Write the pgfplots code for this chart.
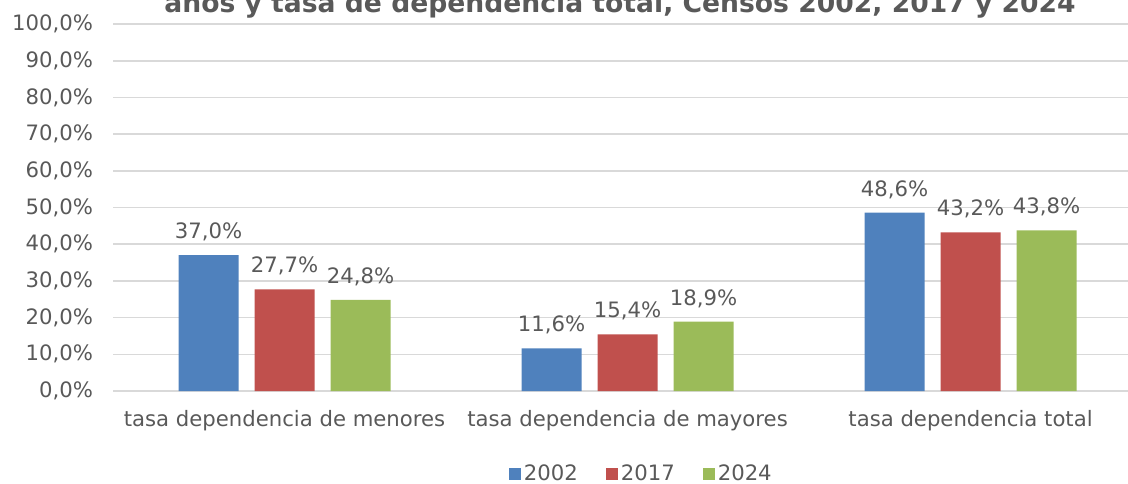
\documentclass[border=0pt]{standalone}
\usepackage{fontspec}
\setmainfont{DejaVu Sans}
\usepackage{pgfplots}
\pgfplotsset{compat=1.18}
\definecolor{cBlue}{HTML}{4F81BD}
\definecolor{cRed}{HTML}{C0504D}
\definecolor{cGreen}{HTML}{9BBB59}
\definecolor{txt}{HTML}{595959}
\definecolor{grd}{HTML}{D9D9D9}
\begin{document}
\begin{tikzpicture}[x=1pt,y=1pt]
\begin{axis}[
    at={(56.5pt,46pt)}, anchor=south west,
    scale only axis,
    width=507.5pt, height=183.5pt,
    ybar, bar width=30pt,
    xmin=-0.5, xmax=2.459,
    ymin=0, ymax=100,
    xtick={0,1,2},
    xticklabels={tasa dependencia de menores, tasa dependencia de mayores, tasa dependencia total},
    ytick={0,10,...,100},
    axis y line*=left,
    y axis line style={draw=none},
    axis x line*=bottom,
    x axis line style={grd, line width=0.8pt, -},
    ymajorgrids, grid style={grd, line width=0.8pt},
    major tick length=0pt,
    tick style={draw=none},
    font=\fontsize{10.6}{12}\selectfont,
    tick label style={text=txt, font=\fontsize{10.6}{12}\selectfont},
    /pgf/number format/.cd, fixed, fixed zerofill, precision=1, use comma, assume math mode=true,
    /pgfplots/.cd,
    yticklabel={\pgfmathprintnumber{\tick}\%},
    yticklabel style={xshift=-6.5pt},
    xticklabel style={yshift=-6pt},
    nodes near coords={\pgfmathprintnumber{\pgfplotspointmeta}\%},
    nodes near coords style={text=txt, font=\fontsize{10.6}{12}\selectfont, yshift=3.5pt},
    legend style={at={(0.521,-0.226)}, anchor=center, draw=none, fill=none,
        legend columns=-1, text=txt, font=\fontsize{10.6}{12}\selectfont,
        /tikz/every even column/.append style={column sep=12.5pt},
        nodes={inner sep=1.5pt}},
    legend image code/.code={\fill[#1] (0pt,-3pt) rectangle (6pt,3pt);},
]
\addplot[fill=cBlue, draw=none, bar shift=-38pt] coordinates {(0,37.0) (1,11.6) (2,48.6)};
\addlegendentry{2002}
\addplot[fill=cRed, draw=none, bar shift=0pt] coordinates {(0,27.7) (1,15.4) (2,43.2)};
\addlegendentry{2017}
\addplot[fill=cGreen, draw=none, bar shift=38pt] coordinates {(0,24.8) (1,18.9) (2,43.8)};
\addlegendentry{2024}
\end{axis}
\node[anchor=base, text=txt, font=\bfseries\fontsize{13.3}{16}\selectfont] at (310pt,235pt)
    {años y tasa de dependencia total, Censos 2002, 2017 y 2024};
\pgfresetboundingbox
\path[use as bounding box] (0,0) rectangle (564pt,241.5pt);
\end{tikzpicture}
\end{document}
